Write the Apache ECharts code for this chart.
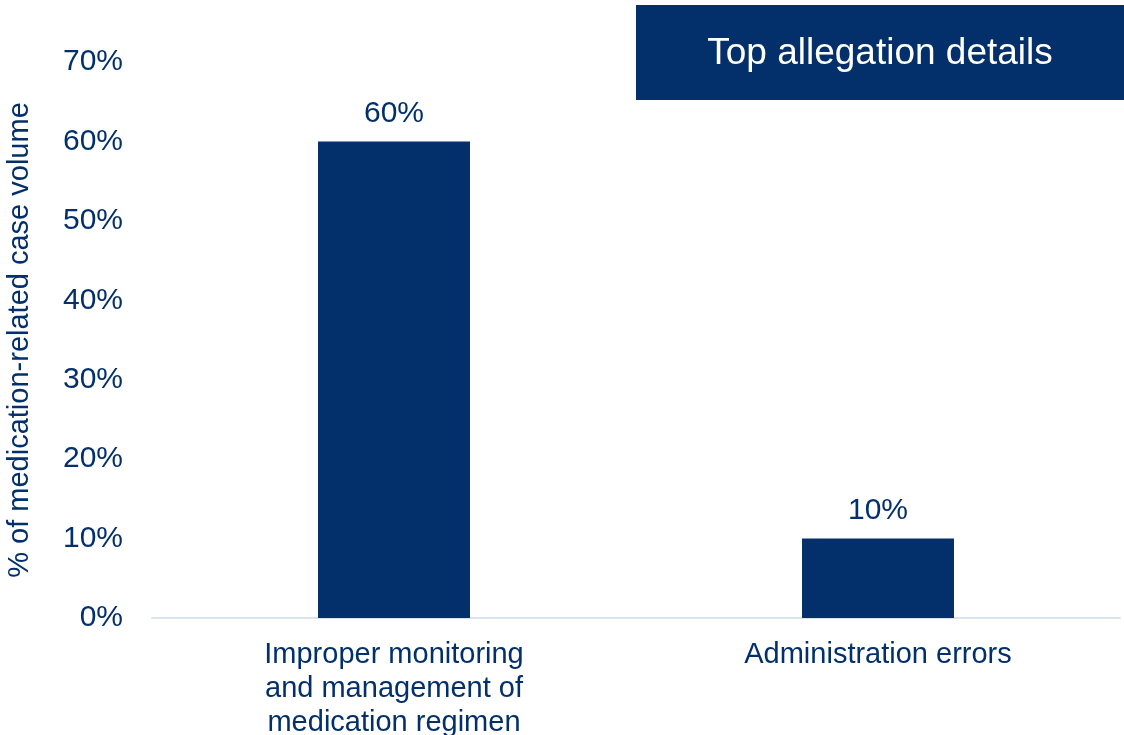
<!DOCTYPE html>
<html>
<head>
<meta charset="utf-8">
<script src="https://cdn.jsdelivr.net/npm/echarts@6/dist/echarts.min.js"></script>
<style>
html,body{margin:0;padding:0;background:#fff;}
#chart{width:1124px;height:735px;}
</style>
</head>
<body>
<div id="chart"></div>
<script>
const categories = ['Improper monitoring\nand management of\nmedication regimen', 'Administration errors'];
const values = [60, 10];
const yTicks = { min: 0, max: 70, interval: 10 };
const titleText = 'Top allegation details';
const yAxisName = '% of medication-related case volume';

const NAVY = '#03306B';
const FONT = '"Liberation Sans", Arial, sans-serif';

const chart = echarts.init(document.getElementById('chart'));
chart.setOption({
  backgroundColor: '#ffffff',
  animation: false,
  grid: { left: 152, right: 4, top: 62, bottom: 117, containLabel: false, outerBoundsMode: 'none' },
  xAxis: {
    type: 'category',
    data: categories,
    axisLine: { show: true, lineStyle: { color: '#D9E4EC', width: 2 } },
    axisTick: { show: false },
    axisLabel: {
      color: NAVY, fontFamily: FONT, fontSize: 29, lineHeight: 34,
      margin: 20, interval: 0, align: 'center'
    }
  },
  yAxis: {
    type: 'value',
    min: yTicks.min, max: yTicks.max, interval: yTicks.interval,
    name: yAxisName,
    nameLocation: 'middle',
    nameGap: 118,
    nameTextStyle: { color: NAVY, fontFamily: FONT, fontSize: 29 },
    splitLine: { show: false },
    axisLine: { show: false },
    axisTick: { show: false },
    axisLabel: {
      color: NAVY, fontFamily: FONT, fontSize: 30, margin: 29,
      formatter: v => v + '%'
    }
  },
  series: [{
    type: 'bar',
    data: values,
    barWidth: '31.4%',
    itemStyle: { color: NAVY },
    label: {
      show: true, position: 'top', distance: 13,
      color: NAVY, fontFamily: FONT, fontSize: 30,
      formatter: p => p.value + '%'
    }
  }],
  graphic: [
    { type: 'rect', left: 636, top: 5, shape: { width: 488, height: 95 }, style: { fill: NAVY } },
    { type: 'text', x: 880, y: 54, style: { text: titleText, fill: '#ffffff', font: '37px ' + FONT, textAlign: 'center', textVerticalAlign: 'middle' } }
  ]
});
</script>
</body>
</html>
